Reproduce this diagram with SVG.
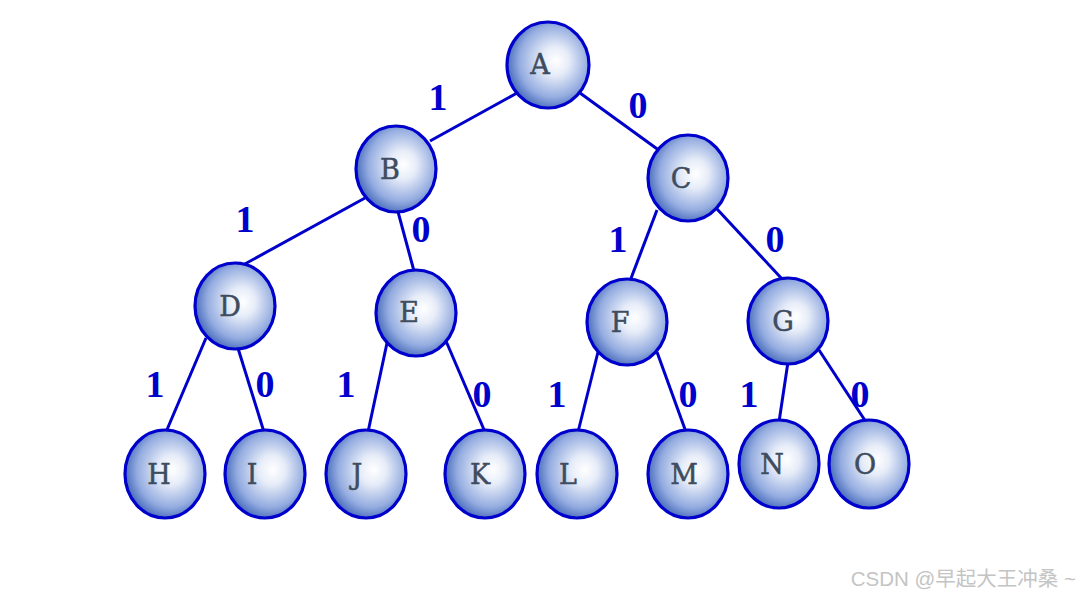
<svg xmlns="http://www.w3.org/2000/svg" width="1083" height="596" viewBox="0 0 1083 596">
<defs>
<radialGradient id="g" cx="0.56" cy="0.46" r="0.56" fx="0.6" fy="0.45">
<stop offset="0" stop-color="#ffffff"/>
<stop offset="0.3" stop-color="#e6ecf8"/>
<stop offset="0.75" stop-color="#94ace0"/>
<stop offset="1" stop-color="#4b6ebd"/>
</radialGradient>
</defs>
<style>
.n{fill:url(#g);stroke:#0000cc;stroke-width:3.2}
.t{font-family:"DejaVu Serif","Liberation Serif",serif;font-size:27px;fill:#3e4c5e;stroke:#3e4c5e;stroke-width:0.5;text-anchor:middle}
.e{stroke:#0000cc;stroke-width:3;fill:none}
.l{font-family:"Liberation Serif","DejaVu Serif",serif;font-weight:bold;font-size:38px;fill:#0000cc;text-anchor:middle}
</style>
<rect width="1083" height="596" fill="#ffffff"/>
<g id="connectors">
<line class="e" x1="517" y1="93" x2="430" y2="141"/>
<line class="e" x1="580" y1="93" x2="660" y2="151"/>
<line class="e" x1="365" y1="198" x2="243" y2="265"/>
<line class="e" x1="397" y1="208" x2="414" y2="271"/>
<line class="e" x1="657" y1="210" x2="630" y2="281"/>
<line class="e" x1="717" y1="209" x2="783" y2="280"/>
<line class="e" x1="206" y1="338" x2="166" y2="432"/>
<line class="e" x1="237" y1="345" x2="264" y2="432"/>
<line class="e" x1="387" y1="343" x2="368" y2="432"/>
<line class="e" x1="446" y1="341" x2="485" y2="432"/>
<line class="e" x1="598" y1="352" x2="578" y2="432"/>
<line class="e" x1="657" y1="352" x2="686" y2="432"/>
<line class="e" x1="788" y1="362" x2="779" y2="422"/>
<line class="e" x1="819" y1="350" x2="866" y2="422"/>
<text class="l" x="438" y="110">1</text>
<text class="l" x="638" y="118">0</text>
<text class="l" x="245" y="232">1</text>
<text class="l" x="421" y="242">0</text>
<text class="l" x="618" y="252">1</text>
<text class="l" x="775" y="252">0</text>
<text class="l" x="155" y="397">1</text>
<text class="l" x="265" y="397">0</text>
<text class="l" x="346" y="397">1</text>
<text class="l" x="482" y="407">0</text>
<text class="l" x="557" y="407">1</text>
<text class="l" x="688" y="407">0</text>
<text class="l" x="749" y="407">1</text>
<text class="l" x="860" y="407">0</text>
</g>
<g id="A"><ellipse class="n" cx="548" cy="65" rx="41" ry="43"/><text class="t" x="540" y="74">A</text></g>
<g id="B"><ellipse class="n" cx="396" cy="169" rx="40" ry="43"/><text class="t" x="390" y="179">B</text></g>
<g id="C"><ellipse class="n" cx="688" cy="178" rx="40" ry="43"/><text class="t" x="681" y="188">C</text></g>
<g id="D"><ellipse class="n" cx="235" cy="306" rx="40" ry="43"/><text class="t" x="230" y="316">D</text></g>
<g id="E"><ellipse class="n" cx="416" cy="313" rx="40" ry="43"/><text class="t" x="409" y="322">E</text></g>
<g id="F"><ellipse class="n" cx="627" cy="322" rx="40" ry="43"/><text class="t" x="620" y="332">F</text></g>
<g id="G"><ellipse class="n" cx="788" cy="321" rx="40" ry="43"/><text class="t" x="783" y="331">G</text></g>
<g id="H"><ellipse class="n" cx="165" cy="474" rx="40" ry="44"/><text class="t" x="159" y="484">H</text></g>
<g id="I"><ellipse class="n" cx="265" cy="474" rx="40" ry="44"/><text class="t" x="252" y="484">I</text></g>
<g id="J"><ellipse class="n" cx="366" cy="474" rx="40" ry="44"/><text class="t" x="357" y="484">J</text></g>
<g id="K"><ellipse class="n" cx="485" cy="474" rx="40" ry="44"/><text class="t" x="480" y="484">K</text></g>
<g id="L"><ellipse class="n" cx="577" cy="474" rx="40" ry="44"/><text class="t" x="568" y="484">L</text></g>
<g id="M"><ellipse class="n" cx="688" cy="474" rx="40" ry="44"/><text class="t" x="684" y="484">M</text></g>
<g id="N"><ellipse class="n" cx="779" cy="464" rx="40" ry="44"/><text class="t" x="772" y="474">N</text></g>
<g id="O"><ellipse class="n" cx="869" cy="464" rx="40" ry="44"/><text class="t" x="865" y="474">O</text></g>
<text x="1076" y="586" font-family="'Liberation Sans','Noto Sans CJK SC',sans-serif" font-size="20.5" fill="#c4c4c4" text-anchor="end">CSDN @早起大王冲桑 ~</text>
</svg>
